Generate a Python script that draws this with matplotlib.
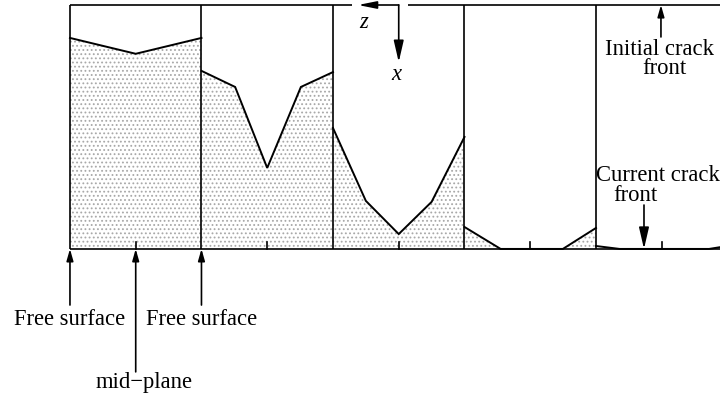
import matplotlib
matplotlib.use("Agg")
import matplotlib.pyplot as plt
import numpy as np

# Crack front depth across the specimen thickness at five growth stages.
# z: position across thickness (0 and 1 are the free surfaces, 0.5 the mid-plane)
# depth: crack advance, 0 = initial crack front, 1 = current crack front
z_stage1 = [0.0, 0.5, 1.0]
depth_stage1 = [0.135, 0.20, 0.135]
z_stage2 = [0.0, 0.256, 0.5, 0.756, 1.0]
depth_stage2 = [0.27, 0.336, 0.668, 0.336, 0.275]
z_stage3 = [0.0, 0.25, 0.5, 0.75, 1.0]
depth_stage3 = [0.504, 0.803, 0.939, 0.807, 0.541]
z_stage4 = [0.0, 0.275, 0.748, 1.0]
depth_stage4 = [0.91, 1.0, 1.0, 0.914]
z_stage5 = [0.0, 0.18, 0.86, 1.0]
depth_stage5 = [0.988, 1.0, 1.0, 0.988]

stages = [
    (z_stage1, depth_stage1),
    (z_stage2, depth_stage2),
    (z_stage3, depth_stage3),
    (z_stage4, depth_stage4),
    (z_stage5, depth_stage5),
]

FONT = "Liberation Serif"
FS = 16.3
LW = 1.2


def arrow(ax, start, end, hl=0.8, hw=0.22):
    ax.annotate(
        "", xy=end, xytext=start,
        arrowprops=dict(
            arrowstyle=f"-|>,head_length={hl},head_width={hw}",
            color="k", lw=LW, mutation_scale=10, shrinkA=0, shrinkB=0,
        ),
    )


def main():
    plt.rcParams["hatch.linewidth"] = 0.8
    fig = plt.figure(figsize=(7.2, 3.97), dpi=100)
    ax = fig.add_axes([0, 0, 1, 1])
    ax.set_xlim(-0.532, 4.943)
    ax.set_ylim(1.607, -0.0205)
    ax.axis("off")

    n = len(stages)
    for i, (z, depth) in enumerate(stages):
        u = i + np.asarray(z)
        d = np.asarray(depth)
        ax.fill_between(u, d, 1.0, facecolor="white", edgecolor="#a8a8a8",
                        hatch="....", linewidth=0)
        ax.plot(u, d, color="k", lw=1.4, solid_joinstyle="miter")
        # mid-plane tick on the current front line
        ax.plot([i + 0.5, i + 0.5], [1.0, 0.97], color="k", lw=LW)

    # panel boundaries, initial and current crack lines
    ax.vlines(np.arange(n + 1), 0.0, 1.0, color="k", lw=LW)
    ax.hlines(1.0, 0, n + 0.5, color="k", lw=LW)
    ax.hlines(0.0, 0, 2.144, color="k", lw=LW)
    ax.hlines(0.0, 2.57, n + 0.5, color="k", lw=LW)

    # z / x coordinate system at the mid-plane of stage 3
    arrow(ax, (2.5, 0.0), (2.19, 0.0), hl=1.1, hw=0.22)
    arrow(ax, (2.5, 0.0), (2.5, 0.234), hl=1.3, hw=0.3)
    ax.text(2.23, 0.094, "z", fontsize=FS, family=FONT, style="italic",
            ha="center", va="baseline")
    ax.text(2.48, 0.307, "x", fontsize=FS, family=FONT, style="italic",
            ha="center", va="baseline")

    # free surface / mid-plane markers under the first stage
    arrow(ax, (0.0, 1.23), (0.0, 1.0), hl=0.7, hw=0.2)
    arrow(ax, (1.0, 1.23), (1.0, 1.0), hl=0.7, hw=0.2)
    arrow(ax, (0.5, 1.504), (0.5, 1.0), hl=0.7, hw=0.2)
    ax.text(0.0, 1.311, "Free surface", fontsize=FS, family=FONT,
            ha="center", va="baseline")
    ax.text(1.0, 1.311, "Free surface", fontsize=FS, family=FONT,
            ha="center", va="baseline")
    ax.text(0.56, 1.57, "mid\u2212plane", fontsize=FS, family=FONT,
            ha="center", va="baseline")

    # crack front labels on the last stage
    arrow(ax, (4.494, 0.131), (4.494, 0.0), hl=0.7, hw=0.2)
    ax.text(4.48, 0.205, "Initial crack", fontsize=FS, family=FONT,
            ha="center", va="baseline")
    ax.text(4.52, 0.283, "front", fontsize=FS, family=FONT,
            ha="center", va="baseline")
    ax.text(4.47, 0.721, "Current crack", fontsize=FS, family=FONT,
            ha="center", va="baseline")
    ax.text(4.30, 0.804, "front", fontsize=FS, family=FONT,
            ha="center", va="baseline")
    arrow(ax, (4.365, 0.82), (4.365, 1.0), hl=1.3, hw=0.3)

    fig.savefig("out.png", dpi=100)
    plt.close(fig)


if __name__ == "__main__":
    main()
